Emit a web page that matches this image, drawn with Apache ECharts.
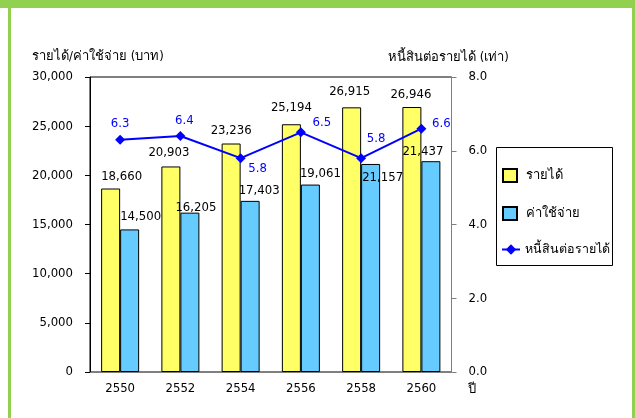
<!DOCTYPE html>
<html>
<head>
<meta charset="utf-8">
<script src="https://cdn.jsdelivr.net/npm/echarts@6/dist/echarts.min.js"></script>
<style>
html,body{margin:0;padding:0;background:#fff;}
#chart{width:635px;height:418px;}
</style>
</head>
<body>
<div id="chart"></div>
<script>
// ---- data ----
const years = ['2550', '2552', '2554', '2556', '2558', '2560'];
const income = [18660, 20903, 23236, 25194, 26915, 26946];
const expense = [14500, 16205, 17403, 19061, 21157, 21437];
const debtRatio = [6.3, 6.4, 5.8, 6.5, 5.8, 6.6];
const leftTicks = { min: 0, max: 30000, interval: 5000 };
const rightTicks = { min: 0, max: 8, interval: 2 };
const names = { income: 'รายได้', expense: 'ค่าใช้จ่าย', ratio: 'หนี้สินต่อรายได้' };
const axisTitles = { left: 'รายได้/ค่าใช้จ่าย (บาท)', right: 'หนี้สินต่อรายได้ (เท่า)', x: 'ปี' };

// ---- label placement (style only) ----
const incomeLabelOffsets = [[11,-5],[-2,-7],[0,-6],[0,-10],[-2,-9],[-1,-6]];
const expenseLabelOffsets = [[11,-6],[6,1],[9,-4],[10,-4],[12,20],[-8,-3]];
const ratioLabelOffsets = [[0,-16],[4,-15],[17,10],[21,-10],[15,-20],[20,-5]];

const FONT = 'Tahoma, "DejaVu Sans Condensed", "DejaVu Sans", "Noto Sans", sans-serif';
const fmt = v => v.toLocaleString('en-US');

const chart = echarts.init(document.getElementById('chart'), null, { renderer: 'canvas' });

const barLabel = (offsets) => (v, i) => ({
  value: v,
  label: { offset: offsets[i] }
});

const option = {
  backgroundColor: '#ffffff',
  animation: false,
  textStyle: { fontFamily: FONT },
  grid: { left: 90, right: 183.5, top: 77, bottom: 46, show: true, borderColor: '#000', borderWidth: 1, containLabel: false },
  xAxis: {
    type: 'category',
    data: years,
    boundaryGap: true,
    axisLine: { show: true, lineStyle: { color: '#7f7f7f', width: 1 } },
    axisTick: { show: false },
    axisLabel: { color: '#000', fontSize: 13, margin: 10, fontFamily: FONT },
    splitLine: { show: false }
  },
  yAxis: [
    {
      type: 'value',
      min: leftTicks.min, max: leftTicks.max, interval: leftTicks.interval,
      position: 'left',
      axisLine: { show: true, lineStyle: { color: '#000', width: 1 } },
      axisTick: { show: true, inside: false, length: 5, lineStyle: { color: '#000' } },
      axisLabel: { color: '#000', fontSize: 13, margin: 17, fontFamily: FONT, formatter: v => fmt(v) },
      splitLine: { show: false }
    },
    {
      type: 'value',
      min: rightTicks.min, max: rightTicks.max, interval: rightTicks.interval,
      position: 'right',
      axisLine: { show: true, lineStyle: { color: '#7f7f7f', width: 1 } },
      axisTick: { show: true, inside: false, length: 5, lineStyle: { color: '#7f7f7f' } },
      axisLabel: { color: '#000', fontSize: 13, margin: 17, fontFamily: FONT, formatter: v => v.toFixed(1) },
      splitLine: { show: false }
    }
  ],
  legend: [
    {
      orient: 'vertical',
      left: 502, top: 168,
      padding: 0,
      itemWidth: 14, itemHeight: 13, itemGap: 23,
      icon: 'rect',
      data: [names.income, names.expense],
      textStyle: { color: '#000', fontSize: 13, fontFamily: FONT, padding: [0, 0, 0, 4] }
    },
    {
      orient: 'vertical',
      left: 501, top: 243,
      padding: 0,
      itemWidth: 18, itemHeight: 13,
      data: [names.ratio],
      textStyle: { color: '#000', fontSize: 12.5, fontFamily: FONT }
    }
  ],
  graphic: [
    { type: 'rect', shape: { x: 0, y: 0, width: 635, height: 8 }, style: { fill: '#92D050' }, silent: true },
    { type: 'rect', shape: { x: 8, y: 8, width: 3, height: 410 }, style: { fill: '#92D050' }, silent: true },
    { type: 'rect', shape: { x: 632, y: 8, width: 3, height: 410 }, style: { fill: '#92D050' }, silent: true },
    { type: 'rect', shape: { x: 496.5, y: 147.5, width: 116, height: 118 }, style: { fill: 'none', stroke: '#000', lineWidth: 1 }, silent: true, z: -1 },
    { type: 'text', left: 32, top: 50, style: { text: axisTitles.left, fill: '#000', font: '13px ' + FONT } },
    { type: 'text', left: 388, top: 51, style: { text: axisTitles.right, fill: '#000', font: '13px ' + FONT } },
    { type: 'text', left: 468, top: 383, style: { text: axisTitles.x, fill: '#000', font: '13px ' + FONT } }
  ],
  series: [
    {
      name: names.income,
      type: 'bar',
      yAxisIndex: 0,
      barWidth: 19,
      barGap: '0%',
      itemStyle: { color: '#FFFF66', borderColor: '#000', borderWidth: 1 },
      label: { show: true, position: 'top', distance: 0, color: '#000', fontSize: 13, fontFamily: FONT, formatter: p => fmt(p.value) },
      data: income.map(barLabel(incomeLabelOffsets)),
      z: 2
    },
    {
      name: names.expense,
      type: 'bar',
      yAxisIndex: 0,
      barWidth: 19,
      barGap: '0%',
      itemStyle: { color: '#66CCFF', borderColor: '#000', borderWidth: 1 },
      label: { show: true, position: 'top', distance: 0, color: '#000', fontSize: 13, fontFamily: FONT, formatter: p => fmt(p.value) },
      data: expense.map(barLabel(expenseLabelOffsets)),
      z: 2
    },
    {
      name: names.ratio,
      type: 'line',
      yAxisIndex: 1,
      symbol: 'diamond',
      symbolSize: 10,
      lineStyle: { color: '#0000FF', width: 2 },
      itemStyle: { color: '#0000FF' },
      label: { show: true, position: 'inside', color: '#0000FF', fontSize: 13, fontFamily: FONT, formatter: p => p.value.toFixed(1) },
      data: debtRatio.map((v, i) => ({ value: v, label: { offset: ratioLabelOffsets[i] } })),
      z: 5
    }
  ]
};
chart.setOption(option);
</script>
</body>
</html>
